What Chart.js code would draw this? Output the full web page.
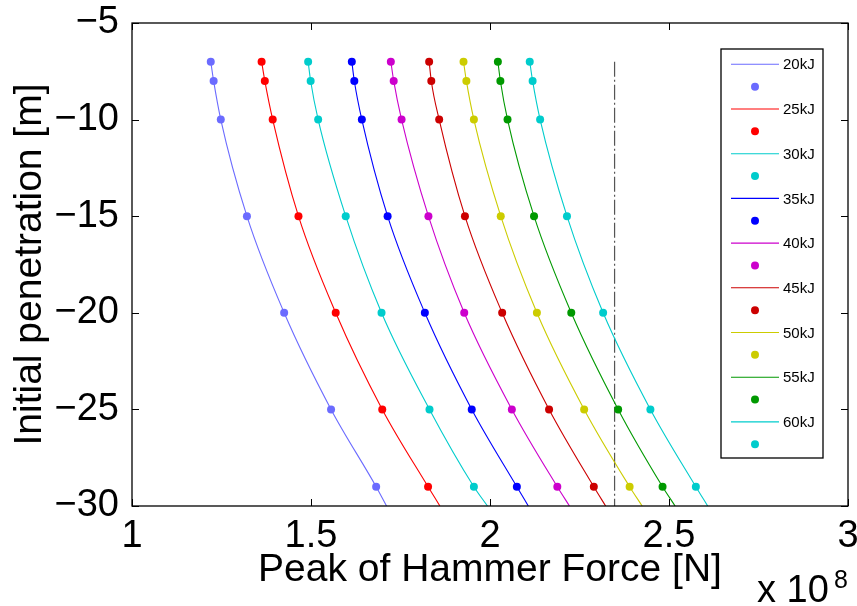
<!DOCTYPE html>
<html>
<head>
<meta charset="utf-8">
<script src="https://cdn.jsdelivr.net/npm/chart.js@4.4.0/dist/chart.umd.min.js"></script>
<style>
body{margin:0;background:#fff;}
#wrap{width:857px;height:606px;}
</style>
</head>
<body>
<div id="wrap"><canvas id="forceChart" width="857" height="606"></canvas></div>
<script>
// peak hammer force vs initial penetration (x axis in units of 1e8 N)

let depths = [-7, -8, -10, -15, -20, -25, -29];
let bottomDepth = -30;

let energies = ["20kJ", "25kJ", "30kJ", "35kJ", "40kJ", "45kJ", "50kJ", "55kJ", "60kJ"];

let f20 = [1.220, 1.228, 1.248, 1.321, 1.425, 1.556, 1.682];
let f25 = [1.362, 1.371, 1.393, 1.465, 1.569, 1.699, 1.827];
let f30 = [1.492, 1.499, 1.520, 1.597, 1.697, 1.831, 1.955];
let f35 = [1.614, 1.621, 1.642, 1.714, 1.818, 1.949, 2.075];
let f40 = [1.723, 1.731, 1.753, 1.828, 1.928, 2.061, 2.188];
let f45 = [1.830, 1.836, 1.858, 1.930, 2.034, 2.165, 2.290];
let f50 = [1.926, 1.934, 1.955, 2.030, 2.131, 2.263, 2.390];
let f55 = [2.022, 2.029, 2.049, 2.123, 2.227, 2.358, 2.482];
let f60 = [2.111, 2.119, 2.140, 2.215, 2.316, 2.448, 2.575];

// where each fitted curve leaves the plot at -30 m
let curveEnd = [1.711, 1.860, 1.993, 2.107, 2.222, 2.323, 2.425, 2.517, 2.608];

// dash-dot limit line
let limitForce = 2.348;
let limitDepths = [-7, -30];

let xTicks = [1, 1.5, 2, 2.5, 3];
let yTicks = [-30, -25, -20, -15, -10, -5];

let colors = ["#6b6bff", "#ff0000", "#00cccc", "#0000ff", "#cc00cc", "#cc0000", "#cccc00", "#009900", "#00cccc"];

let forces = [f20, f25, f30, f35, f40, f45, f50, f55, f60];

let FONT = "'Liberation Sans', Arial, Helvetica, sans-serif";


function minusLabel(v){
  let s = String(v);
  return s.replace("-", "\u2212");
}


let datasets = [];

forces.forEach((f, i)=>{

  let pts = f.map((x, k)=>({x:x, y:depths[k]}));
  pts.push({x:curveEnd[i], y:bottomDepth});

  let radii = depths.map(()=>4);
  radii.push(0);

  datasets.push({
    label: energies[i],
    data: pts,
    showLine: true,
    borderColor: colors[i],
    backgroundColor: colors[i],
    borderWidth: 1.1,
    pointRadius: radii,
    pointBorderWidth: 0,
    pointHoverRadius: radii,
    cubicInterpolationMode: "monotone",
    isSeries: true
  });

});

datasets.push({
  label: "limit",
  data: limitDepths.map(d=>({x:limitForce, y:d})),
  showLine: true,
  borderColor: "#555555",
  borderWidth: 1.2,
  borderDash: [15, 3, 2, 3],
  pointRadius: 0,
  isSeries: false
});


let frameAndLegend = {

  id: "frameAndLegend",

  afterDatasetsDraw(chart){

    let ctx = chart.ctx;
    let a = chart.chartArea;
    let xs = chart.scales.x;
    let ys = chart.scales.y;

    ctx.save();

    // box
    ctx.strokeStyle = "#000";
    ctx.lineWidth = 1.3;
    ctx.strokeRect(a.left, a.top, a.right - a.left, a.bottom - a.top);

    // inward ticks all round
    let tl = 7;
    ctx.lineWidth = 1;
    ctx.beginPath();
    xTicks.forEach(v=>{
      let px = Math.round(xs.getPixelForValue(v)) + 0.5;
      ctx.moveTo(px, a.bottom); ctx.lineTo(px, a.bottom - tl);
      ctx.moveTo(px, a.top); ctx.lineTo(px, a.top + tl);
    });
    yTicks.forEach(v=>{
      let py = Math.round(ys.getPixelForValue(v)) + 0.5;
      ctx.moveTo(a.left, py); ctx.lineTo(a.left + tl, py);
      ctx.moveTo(a.right, py); ctx.lineTo(a.right - tl, py);
    });
    ctx.stroke();

    // legend
    let bx = 721, by = 49, bw = 102, bh = 409;
    ctx.fillStyle = "#fff";
    ctx.fillRect(bx, by, bw, bh);
    ctx.strokeStyle = "#000";
    ctx.lineWidth = 1.3;
    ctx.strokeRect(bx, by, bw, bh);

    let row = 0;
    let step = 22.35;
    ctx.font = "15px " + FONT;
    ctx.textBaseline = "middle";
    ctx.textAlign = "left";

    chart.data.datasets.forEach(ds=>{
      if(!ds.isSeries){
        return;
      }
      let y = by + 15.3 + row * step;
      ctx.strokeStyle = ds.borderColor;
      ctx.lineWidth = 1.1;
      ctx.beginPath();
      ctx.moveTo(731, y);
      ctx.lineTo(779, y);
      ctx.stroke();
      ctx.fillStyle = "#000";
      ctx.fillText(ds.label, 783, y + 1);
      row++;

      y = by + 15.3 + row * step;
      ctx.fillStyle = ds.backgroundColor;
      ctx.beginPath();
      ctx.arc(755, y, 4, 0, Math.PI * 2);
      ctx.fill();
      row++;
    });

    // exponent
    ctx.fillStyle = "#000";
    ctx.textBaseline = "alphabetic";
    ctx.font = "38px " + FONT;
    ctx.fillText("x 10", 757, 602);
    ctx.font = "25px " + FONT;
    ctx.fillText("8", 834, 588);

    ctx.restore();

  }

};


let chart = new Chart(document.getElementById("forceChart"), {

  type: "scatter",

  data: {
    datasets: datasets
  },

  options: {

    responsive: false,
    animation: false,

    layout: {
      padding: {top: 23, right: 9, left: 0, bottom: 0}
    },

    plugins: {
      legend: {display: false},
      tooltip: {enabled: false}
    },

    scales: {

      x: {
        type: "linear",
        min: 1,
        max: 3,
        grid: {display: false},
        border: {display: false},
        afterBuildTicks: s=>{ s.ticks = xTicks.map(v=>({value:v})); },
        afterFit: s=>{ s.height = 100; s.paddingLeft = 0; s.paddingRight = 0; },
        ticks: {
          color: "#000",
          padding: 0,
          maxRotation: 0,
          font: {family: FONT, size: 38},
          callback: v=>minusLabel(v)
        },
        title: {
          display: true,
          text: "Peak of Hammer Force [N]",
          color: "#000",
          font: {family: FONT, size: 39},
          padding: {top: 0, bottom: 12}
        }
      },

      y: {
        type: "linear",
        min: -30,
        max: -5,
        grid: {display: false},
        border: {display: false},
        afterBuildTicks: s=>{ s.ticks = yTicks.map(v=>({value:v})); },
        afterFit: s=>{ s.width = 132; s.paddingTop = 0; s.paddingBottom = 0; },
        ticks: {
          color: "#000",
          padding: 5,
          font: {family: FONT, size: 38},
          callback: v=>minusLabel(v)
        },
        title: {
          display: true,
          text: "Initial penetration [m]",
          color: "#000",
          font: {family: FONT, size: 39},
          padding: {top: 7, bottom: 0}
        }
      }

    }

  },

  plugins: [frameAndLegend]

});
</script>
</body>
</html>
